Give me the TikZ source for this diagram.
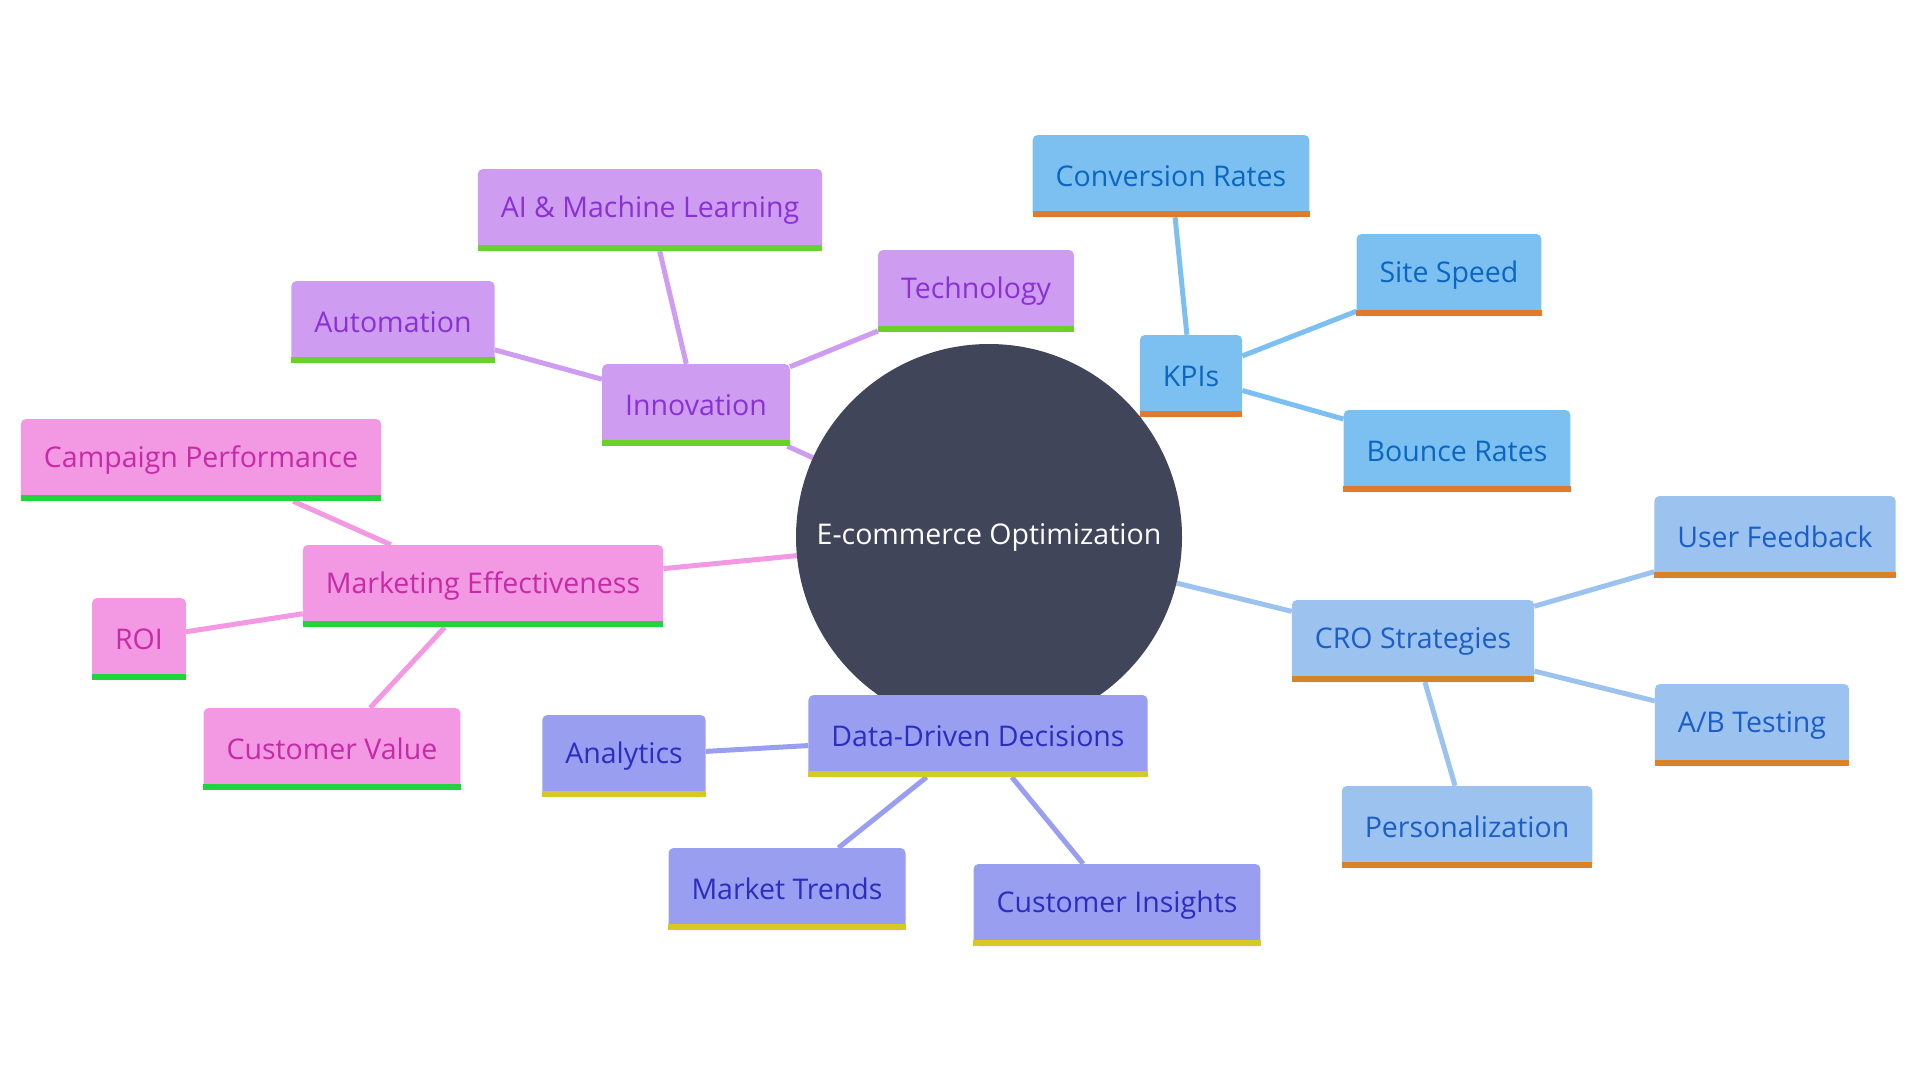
\documentclass[tikz,border=0pt]{standalone}
\usepackage{fontspec}
\setmainfont{Open Sans}
\usetikzlibrary{backgrounds}

\definecolor{hubfill}{HTML}{414559}
\definecolor{innofill}{HTML}{CE9DF2}
\definecolor{innotext}{HTML}{8B30D4}
\definecolor{innobar}{HTML}{6AD12A}
\definecolor{kpifill}{HTML}{7CC0F2}
\definecolor{kpitext}{HTML}{0B66C0}
\definecolor{kpibar}{HTML}{E07B2E}
\definecolor{crofill}{HTML}{9CC3EF}
\definecolor{crotext}{HTML}{1B5EC8}
\definecolor{crobar}{HTML}{D8822A}
\definecolor{datafill}{HTML}{9A9EF1}
\definecolor{datatext}{HTML}{2A2EC0}
\definecolor{databar}{HTML}{D5C928}
\definecolor{markfill}{HTML}{F398E3}
\definecolor{marktext}{HTML}{C62AA6}
\definecolor{markbar}{HTML}{22D33E}

\begin{document}
\begin{tikzpicture}[x=1pt,y=-1pt,
    every node/.style={font=\fontsize{28.5}{34}\selectfont},
    hub/.style={circle,fill=hubfill,text=white,minimum size=386pt,inner sep=0pt},
    leaf/.style={rectangle,rounded corners=5pt,minimum height=82pt,inner xsep=23pt,inner ysep=0pt},
    innobox/.style={leaf,fill=innofill,text=innotext},
    kpibox/.style={leaf,fill=kpifill,text=kpitext},
    crobox/.style={leaf,fill=crofill,text=crotext},
    databox/.style={leaf,fill=datafill,text=datatext},
    markbox/.style={leaf,fill=markfill,text=marktext}]
  \useasboundingbox (0,0) rectangle (1920,1080);

  \node[hub] (hub) at (989,537) {E-commerce Optimization};

  \node[innobox] (inno) at (696,405) {Innovation};
  \node[innobox] (aiml) at (650,210) {AI \& Machine Learning};
  \node[innobox] (tech) at (976,291) {Technology};
  \node[innobox] (auto) at (393,322) {Automation};

  \node[kpibox] (kpi) at (1191,376) {KPIs};
  \node[kpibox] (conv) at (1171,176) {Conversion Rates};
  \node[kpibox] (speed) at (1449,275) {Site Speed};
  \node[kpibox] (bounce) at (1457,451) {Bounce Rates};

  \node[crobox] (cro) at (1413,641) {CRO Strategies};
  \node[crobox] (feedback) at (1775,537) {User Feedback};
  \node[crobox] (abtest) at (1752,725) {A/B Testing};
  \node[crobox] (person) at (1467,827) {Personalization};

  \node[databox] (data) at (978,736) {Data-Driven Decisions};
  \node[databox] (analytics) at (624,756) {Analytics};
  \node[databox] (trends) at (787,889) {Market Trends};
  \node[databox] (insights) at (1117,905) {Customer Insights};

  \node[markbox] (market) at (483,586) {Marketing Effectiveness};
  \node[markbox] (campaign) at (201,460) {Campaign Performance};
  \node[markbox] (roi) at (139,639) {ROI};
  \node[markbox] (value) at (332,749) {Customer Value};

  % coloured strip under each box
  \foreach \n/\c in {inno/innobar,aiml/innobar,tech/innobar,auto/innobar,
      kpi/kpibar,conv/kpibar,speed/kpibar,bounce/kpibar,
      cro/crobar,feedback/crobar,abtest/crobar,person/crobar,
      data/databar,analytics/databar,trends/databar,insights/databar,
      market/markbar,campaign/markbar,roi/markbar,value/markbar}
    \fill[\c] (\n.south west) rectangle ([yshift=6pt]\n.south east);

  \begin{pgfonlayer}{background}
    \begin{scope}[line width=5pt]
      \draw[innofill] (hub) to (inno);
      \draw[innofill] (inno) to (aiml);
      \draw[innofill] (inno) to (tech);
      \draw[innofill] (inno) to (auto);
      \draw[kpifill] (hub) to (kpi);
      \draw[kpifill] (kpi) to (conv);
      \draw[kpifill] (kpi) to (speed);
      \draw[kpifill] (kpi) to (bounce);
      \draw[crofill] (hub) to (cro);
      \draw[crofill] (cro) to (feedback);
      \draw[crofill] (cro) to (abtest);
      \draw[crofill] (cro) to (person);
      \draw[datafill] (hub) to (data);
      \draw[datafill] (data) to (analytics);
      \draw[datafill] (data) to (trends);
      \draw[datafill] (data) to (insights);
      \draw[markfill] (hub) to (market);
      \draw[markfill] (market) to (campaign);
      \draw[markfill] (market) to (roi);
      \draw[markfill] (market) to (value);
    \end{scope}
  \end{pgfonlayer}
\end{tikzpicture}
\end{document}
